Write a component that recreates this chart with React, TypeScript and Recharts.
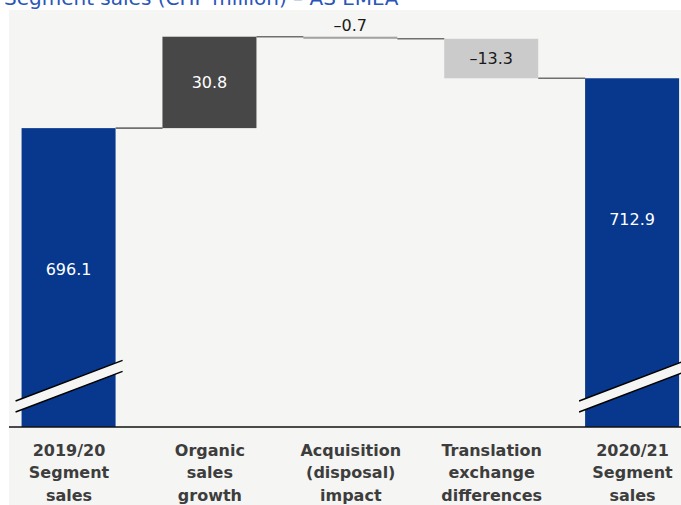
import { BarChart, Bar, XAxis, YAxis } from "recharts";

// categories (axis labels, one line per entry)
const categories = [
  ["2019/20", "Segment", "sales"],
  ["Organic", "sales", "growth"],
  ["Acquisition", "(disposal)", "impact"],
  ["Translation", "exchange", "differences"],
  ["2020/21", "Segment", "sales"],
];
// CHF million
const values = [696.1, 30.8, -0.7, -13.3, 712.9];
const isTotal = [true, false, false, false, true];
const tickValues = [0, 1, 2, 3, 4];

const TITLE = "Segment sales (CHF million) \u2013 AS EMEA";

// broken axis: the totals start at the cut-off, not at zero
const Y_MIN = 595.4;
const Y_MAX = 735.9;

const BLUE = "#07388e";
const BAR_COLORS = [BLUE, "#474747", "#a3a3a3", "#cbcbcb", BLUE];
const PANEL = "#f5f5f3";

const fmt = (v: number) => (v < 0 ? "\u2013" + Math.abs(v).toFixed(1) : v.toFixed(1));

let running = 0;
const rows = values.map((v, i) => {
  let range: [number, number];
  if (isTotal[i]) {
    range = [Y_MIN, v];
    running = v;
  } else {
    const next = running + v;
    range = [Math.min(running, next), Math.max(running, next)];
    running = next;
  }
  return { idx: i, value: v, range };
});

function WaterfallShape(props: any) {
  const { x, y, width, height, index } = props;
  const v = values[index];
  const total = isTotal[index];
  const fill = BAR_COLORS[index];
  const endY = total || v >= 0 ? y : y + height;
  const gap = width / 2;
  const bottom = y + height;
  const cx = x + width / 2;

  let labelY = y + height / 2;
  let labelFill = "#1a1a1a";
  if (total) {
    labelY = y + 141;
    labelFill = "#fff";
  } else if (height < 20) {
    labelY = y - 11;
  }
  if (index === 1) labelFill = "#fff";

  // slanted break marks on the totals
  const x1 = x - 6;
  const x2 = x + width + 7;
  const slope = 0.38;
  const ya = bottom - 26;
  const yb = ya - slope * (x2 - x1);
  const band = 11;

  return (
    <g>
      <rect x={x} y={y} width={width} height={height} fill={fill} />
      {index < values.length - 1 && (
        <line x1={x + width} x2={x + width + gap} y1={endY} y2={endY} stroke="#707070" strokeWidth={1.6} />
      )}
      {total && (
        <g>
          <polygon points={`${x1},${ya} ${x2},${yb} ${x2},${yb + band} ${x1},${ya + band}`} fill={PANEL} />
          <line x1={x1} y1={ya} x2={x2} y2={yb} stroke="#000" strokeWidth={1.4} />
          <line x1={x1} y1={ya + band} x2={x2} y2={yb + band} stroke="#000" strokeWidth={1.4} />
        </g>
      )}
      <text
        x={cx}
        y={labelY}
        textAnchor="middle"
        dominantBaseline="central"
        fontFamily="DejaVu Sans"
        fontSize={16}
        fill={labelFill}
      >
        {fmt(v)}
      </text>
    </g>
  );
}

function CategoryTick(props: any) {
  const { x, y, payload } = props;
  const lines = categories[payload.value] || [];
  return (
    <text x={x} y={y} textAnchor="middle" fontFamily="DejaVu Sans" fontWeight={700} fontSize={16} fill="#3d3d3d">
      {lines.map((l, i) => (
        <tspan key={i} x={x} y={y + 29 + i * 22.3}>
          {l}
        </tspan>
      ))}
    </text>
  );
}

export default function App() {
  return (
    <div style={{ position: "absolute", left: 0, top: 0, width: 681, height: 505, background: "#fff", overflow: "hidden" }}>
      <div style={{ position: "absolute", left: 9, top: 10, right: 0, bottom: 0, background: PANEL }} />
      <svg style={{ position: "absolute", left: 0, top: 0 }} width={681} height={12}>
        <text x={4} y={5} fontFamily="DejaVu Sans" fontSize={20} fill="#2a56b8">
          {TITLE}
        </text>
      </svg>
      <div style={{ position: "absolute", left: 0, top: 0 }}>
        <BarChart width={681} height={505} data={rows} margin={{ top: 10, right: 0, bottom: 0, left: 9 }}>
          <XAxis
            dataKey="idx"
            type="number"
            domain={[-0.426, 4.344]}
            ticks={tickValues}
            allowDataOverflow
            height={78}
            tickLine={false}
            tickSize={0}
            tickMargin={0}
            axisLine={{ stroke: "#111", strokeWidth: 1.5 }}
            tick={<CategoryTick />}
            interval={0}
          />
          <YAxis hide domain={[Y_MIN, Y_MAX]} allowDataOverflow />
          <Bar dataKey="range" barSize={94} isAnimationActive={false} shape={<WaterfallShape />} />
        </BarChart>
      </div>
    </div>
  );
}
